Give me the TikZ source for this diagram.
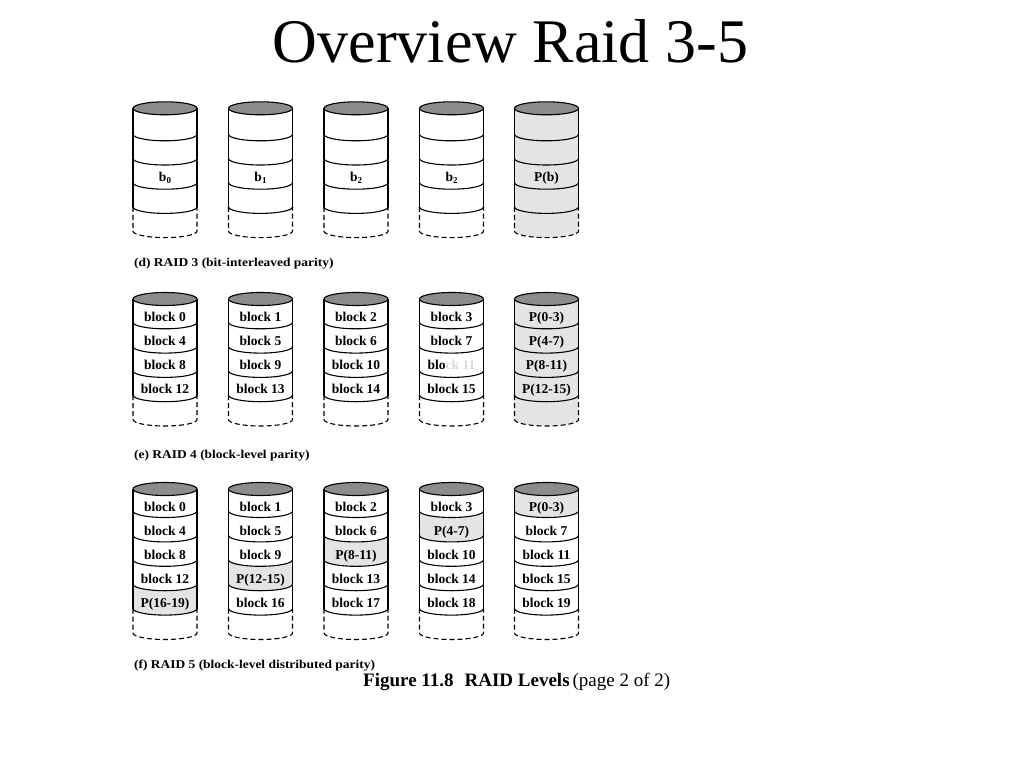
\documentclass[tikz,border=0pt]{standalone}
\usepackage{fontspec}
\setmainfont{Liberation Serif}
\definecolor{topgray}{RGB}{140,140,140}
\definecolor{pgray}{RGB}{228,228,228}
\definecolor{fadegray}{RGB}{218,218,218}
\tikzset{
  diskline/.style={line width=1.1pt,black},
  dashline/.style={line width=1.1pt,black,dash pattern=on 5pt off 3pt},
  lbl/.style={anchor=base,inner sep=0pt,font=\fontsize{13.5}{13.5}\selectfont\bfseries},
  captxt/.style={anchor=base west,inner sep=0pt,font=\fontsize{12}{12}\selectfont\bfseries},
}
% #1 cx, #2 y0 (top ellipse centre), #3 y1 (first arc), #4 step, #5 solid strips, #6 fills (n+1)
\newcommand\drawdisk[6]{%
  \foreach \f [count=\i from 0] in {#6} {
    \ifnum\i=0 \pgfmathsetmacro\ya{#2}\else\pgfmathsetmacro\ya{#3+(\i-1)*#4}\fi
    \pgfmathsetmacro\yb{#3+\i*#4}
    \fill[\f] (#1-32,-\ya) -- (#1-32,-\yb)
      arc[start angle=180,end angle=360,x radius=32pt,y radius=6.5pt]
      -- (#1+32,-\ya)
      arc[start angle=360,end angle=180,x radius=32pt,y radius=6.5pt] -- cycle;
  }
  \filldraw[diskline,fill=topgray] (#1,-#2) ellipse[x radius=32pt,y radius=6.5pt];
  \pgfmathsetmacro\yn{#3+(#5-1)*#4}
  \pgfmathsetmacro\ye{#3+#5*#4}
  \draw[diskline] (#1-32,-#2) -- (#1-32,-\yn);
  \draw[diskline] (#1+32,-#2) -- (#1+32,-\yn);
  \foreach \k in {1,...,#5} {
    \pgfmathsetmacro\yy{#3+(\k-1)*#4}
    \draw[diskline] (#1-32,-\yy) arc[start angle=180,end angle=360,x radius=32pt,y radius=6.5pt];
  }
  \draw[dashline] (#1-32,-\yn) -- (#1-32,-\ye)
    arc[start angle=180,end angle=360,x radius=32pt,y radius=6.5pt] -- (#1+32,-\yn);
}
% #1 name, #2 cx, #3 first base, #4 step, #5 texts
\newcommand\lbls[5]{%
  \foreach \t [count=\k] in {#5} {
    \pgfmathsetmacro\yy{#3+(\k-1)*#4}
    \node[lbl] (#1\k) at (#2,-\yy) {\t};
  }
}
\newcommand\bsub[1]{b\raisebox{-2.5pt}{\fontsize{9}{9}\selectfont #1}}
\begin{document}
\begin{tikzpicture}[x=1pt,y=1pt]
\useasboundingbox[fill=white] (0,0) rectangle (1024,-768);

% Title
\node[anchor=base,inner sep=0pt,font=\fontsize{62}{62}\selectfont] (title) at (510.5,-63) {Overview Raid 3-5};

% ---------- RAID 3 ----------
\drawdisk{165}{108.3}{134.3}{24.2}{4}{white,white,white,white,white}
\drawdisk{260.5}{108.3}{134.3}{24.2}{4}{white,white,white,white,white}
\drawdisk{356}{108.3}{134.3}{24.2}{4}{white,white,white,white,white}
\drawdisk{451.5}{108.3}{134.3}{24.2}{4}{white,white,white,white,white}
\drawdisk{546.5}{108.3}{134.3}{24.2}{4}{pgray,pgray,pgray,pgray,pgray}
\node[lbl] (r3a) at (165,-181) {\bsub{0}};
\node[lbl] (r3b) at (260.5,-181) {\bsub{1}};
\node[lbl] (r3c) at (356,-181) {\bsub{2}};
\node[lbl] (r3d) at (451.5,-181) {\bsub{2}};
\node[lbl] (r3e) at (546.5,-181) {P(b)};
\node[captxt] (capd) at (134,-266) {\scalebox{1.12}[1]{(d) RAID 3 (bit-interleaved parity)}};

% ---------- RAID 4 ----------
\drawdisk{165}{299}{322.3}{24.3}{4}{white,white,white,white,white}
\drawdisk{260.5}{299}{322.3}{24.3}{4}{white,white,white,white,white}
\drawdisk{356}{299}{322.3}{24.3}{4}{white,white,white,white,white}
\drawdisk{451.5}{299}{322.3}{24.3}{4}{white,white,white,white,white}
\drawdisk{546.5}{299}{322.3}{24.3}{4}{pgray,pgray,pgray,pgray,pgray}
\lbls{r4a}{165}{321.5}{24.15}{block 0,block 4,block 8,block 12}
\lbls{r4b}{260.5}{321.5}{24.15}{block 1,block 5,block 9,block 13}
\lbls{r4c}{356}{321.5}{24.15}{block 2,block 6,block 10,block 14}
\lbls{r4d}{451.5}{321.5}{24.15}{block 3,block 7,blo{\color{fadegray}ck 11},block 15}
\lbls{r4e}{546.5}{321.5}{24.15}{P(0-3),P(4-7),P(8-11),P(12-15)}
\node[captxt] (cape) at (134,-458) {\scalebox{1.12}[1]{(e) RAID 4 (block-level parity)}};

% ---------- RAID 5 ----------
\drawdisk{165}{489}{511}{24.4}{5}{white,white,white,white,pgray,white}
\drawdisk{260.5}{489}{511}{24.4}{5}{white,white,white,pgray,white,white}
\drawdisk{356}{489}{511}{24.4}{5}{white,white,pgray,white,white,white}
\drawdisk{451.5}{489}{511}{24.4}{5}{white,pgray,white,white,white,white}
\drawdisk{546.5}{489}{511}{24.4}{5}{pgray,white,white,white,white,white}
\lbls{r5a}{165}{511}{24.1}{block 0,block 4,block 8,block 12,P(16-19)}
\lbls{r5b}{260.5}{511}{24.1}{block 1,block 5,block 9,P(12-15),block 16}
\lbls{r5c}{356}{511}{24.1}{block 2,block 6,P(8-11),block 13,block 17}
\lbls{r5d}{451.5}{511}{24.1}{block 3,P(4-7),block 10,block 14,block 18}
\lbls{r5e}{546.5}{511}{24.1}{P(0-3),block 7,block 11,block 15,block 19}
\node[captxt] (capf) at (134,-668) {\scalebox{1.12}[1]{(f) RAID 5 (block-level distributed parity)}};

% Figure caption
\node[anchor=base west,inner sep=0pt,font=\fontsize{19}{19}\selectfont] (figcap) at (363,-686)
  {{\bfseries Figure 11.8\hspace{11pt}RAID Levels}\hspace{3pt}(page 2 of 2)};
\end{tikzpicture}
\end{document}
